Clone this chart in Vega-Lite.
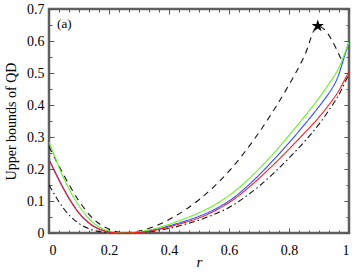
{
  "$schema": "https://vega.github.io/schema/vega-lite/v6.json",
  "width": 300,
  "height": 224,
  "autosize": "none",
  "padding": {"left": 49, "top": 9, "right": 8, "bottom": 39},
  "background": "white",
  "config": {
    "view": {"stroke": "#606060", "strokeWidth": 2.5},
    "axis": {
      "domain": false,
      "grid": false,
      "labelFont": "Liberation Serif",
      "labelFontSize": 14,
      "labelColor": "black",
      "titleFont": "Liberation Serif",
      "titleFontSize": 14,
      "titleFontWeight": "normal",
      "titleColor": "black",
      "tickColor": "#555555",
      "tickWidth": 1
    },
    "axisBottom": {"labelPadding": 10, "labelBaseline": "top"}
  },
  "datasets": {
    "dashed": [
      {"s": "a_dash", "r": 0, "v": 0.27},
      {"s": "a_dash", "r": 0.05, "v": 0.18},
      {"s": "a_dash", "r": 0.1, "v": 0.1},
      {"s": "a_dash", "r": 0.15, "v": 0.042},
      {"s": "a_dash", "r": 0.2, "v": 0.012},
      {"s": "a_dash", "r": 0.25, "v": 0.001},
      {"s": "a_dash", "r": 0.3, "v": 0.006},
      {"s": "a_dash", "r": 0.35, "v": 0.02},
      {"s": "a_dash", "r": 0.4, "v": 0.042},
      {"s": "a_dash", "r": 0.45, "v": 0.07},
      {"s": "a_dash", "r": 0.5, "v": 0.104},
      {"s": "a_dash", "r": 0.55, "v": 0.145},
      {"s": "a_dash", "r": 0.6, "v": 0.193},
      {"s": "a_dash", "r": 0.65, "v": 0.25},
      {"s": "a_dash", "r": 0.7, "v": 0.314},
      {"s": "a_dash", "r": 0.75, "v": 0.385},
      {"s": "a_dash", "r": 0.8, "v": 0.463},
      {"s": "a_dash", "r": 0.85, "v": 0.55},
      {"s": "a_dash", "r": 0.896, "v": 0.647},
      {"s": "a_dash", "r": 0.98, "v": 0.53}
    ],
    "curves": [
      {"s": "b_dashdot", "r": 0, "v": 0.15},
      {"s": "b_dashdot", "r": 0.05, "v": 0.075},
      {"s": "b_dashdot", "r": 0.1, "v": 0.03},
      {"s": "b_dashdot", "r": 0.15, "v": 0.008},
      {"s": "b_dashdot", "r": 0.2, "v": 0.001},
      {"s": "b_dashdot", "r": 0.25, "v": 0},
      {"s": "b_dashdot", "r": 0.3, "v": 0.001},
      {"s": "b_dashdot", "r": 0.35, "v": 0.006},
      {"s": "b_dashdot", "r": 0.4, "v": 0.014},
      {"s": "b_dashdot", "r": 0.45, "v": 0.026},
      {"s": "b_dashdot", "r": 0.5, "v": 0.04},
      {"s": "b_dashdot", "r": 0.55, "v": 0.058},
      {"s": "b_dashdot", "r": 0.6, "v": 0.08},
      {"s": "b_dashdot", "r": 0.65, "v": 0.11},
      {"s": "b_dashdot", "r": 0.7, "v": 0.146},
      {"s": "b_dashdot", "r": 0.75, "v": 0.188},
      {"s": "b_dashdot", "r": 0.8, "v": 0.234},
      {"s": "b_dashdot", "r": 0.85, "v": 0.284},
      {"s": "b_dashdot", "r": 0.9, "v": 0.34},
      {"s": "b_dashdot", "r": 0.95, "v": 0.407},
      {"s": "b_dashdot", "r": 0.975, "v": 0.448},
      {"s": "b_dashdot", "r": 1, "v": 0.497},
      {"s": "c_blue", "r": 0, "v": 0.23},
      {"s": "c_blue", "r": 0.05, "v": 0.137},
      {"s": "c_blue", "r": 0.1, "v": 0.063},
      {"s": "c_blue", "r": 0.15, "v": 0.021},
      {"s": "c_blue", "r": 0.2, "v": 0.004},
      {"s": "c_blue", "r": 0.25, "v": 0},
      {"s": "c_blue", "r": 0.3, "v": 0.003},
      {"s": "c_blue", "r": 0.35, "v": 0.01},
      {"s": "c_blue", "r": 0.4, "v": 0.022},
      {"s": "c_blue", "r": 0.45, "v": 0.036},
      {"s": "c_blue", "r": 0.5, "v": 0.052},
      {"s": "c_blue", "r": 0.55, "v": 0.073},
      {"s": "c_blue", "r": 0.6, "v": 0.1},
      {"s": "c_blue", "r": 0.65, "v": 0.137},
      {"s": "c_blue", "r": 0.7, "v": 0.181},
      {"s": "c_blue", "r": 0.75, "v": 0.23},
      {"s": "c_blue", "r": 0.8, "v": 0.282},
      {"s": "c_blue", "r": 0.85, "v": 0.337},
      {"s": "c_blue", "r": 0.9, "v": 0.395},
      {"s": "c_blue", "r": 0.95, "v": 0.462},
      {"s": "c_blue", "r": 0.975, "v": 0.522},
      {"s": "c_blue", "r": 1, "v": 0.598},
      {"s": "d_green", "r": 0, "v": 0.285},
      {"s": "d_green", "r": 0.05, "v": 0.17},
      {"s": "d_green", "r": 0.1, "v": 0.085},
      {"s": "d_green", "r": 0.15, "v": 0.03},
      {"s": "d_green", "r": 0.2, "v": 0.006},
      {"s": "d_green", "r": 0.25, "v": 0},
      {"s": "d_green", "r": 0.3, "v": 0.004},
      {"s": "d_green", "r": 0.35, "v": 0.013},
      {"s": "d_green", "r": 0.4, "v": 0.027},
      {"s": "d_green", "r": 0.45, "v": 0.044},
      {"s": "d_green", "r": 0.5, "v": 0.063},
      {"s": "d_green", "r": 0.55, "v": 0.087},
      {"s": "d_green", "r": 0.6, "v": 0.117},
      {"s": "d_green", "r": 0.65, "v": 0.155},
      {"s": "d_green", "r": 0.7, "v": 0.2},
      {"s": "d_green", "r": 0.75, "v": 0.25},
      {"s": "d_green", "r": 0.8, "v": 0.305},
      {"s": "d_green", "r": 0.85, "v": 0.362},
      {"s": "d_green", "r": 0.9, "v": 0.422},
      {"s": "d_green", "r": 0.95, "v": 0.49},
      {"s": "d_green", "r": 0.975, "v": 0.535},
      {"s": "d_green", "r": 1, "v": 0.597},
      {"s": "e_red", "r": 0, "v": 0.228},
      {"s": "e_red", "r": 0.05, "v": 0.135},
      {"s": "e_red", "r": 0.1, "v": 0.062},
      {"s": "e_red", "r": 0.15, "v": 0.02},
      {"s": "e_red", "r": 0.2, "v": 0.003},
      {"s": "e_red", "r": 0.25, "v": 0},
      {"s": "e_red", "r": 0.3, "v": 0.002},
      {"s": "e_red", "r": 0.35, "v": 0.008},
      {"s": "e_red", "r": 0.4, "v": 0.019},
      {"s": "e_red", "r": 0.45, "v": 0.032},
      {"s": "e_red", "r": 0.5, "v": 0.047},
      {"s": "e_red", "r": 0.55, "v": 0.068},
      {"s": "e_red", "r": 0.6, "v": 0.095},
      {"s": "e_red", "r": 0.65, "v": 0.13},
      {"s": "e_red", "r": 0.7, "v": 0.171},
      {"s": "e_red", "r": 0.75, "v": 0.215},
      {"s": "e_red", "r": 0.8, "v": 0.262},
      {"s": "e_red", "r": 0.85, "v": 0.311},
      {"s": "e_red", "r": 0.9, "v": 0.362},
      {"s": "e_red", "r": 0.95, "v": 0.422},
      {"s": "e_red", "r": 0.975, "v": 0.46},
      {"s": "e_red", "r": 1, "v": 0.505}
    ],
    "star": [{"r": 0.896, "v": 0.647}],
    "label": [{"r": 0.027, "v": 0.653, "t": "(a)"}]
  },
  "resolve": {"axis": {"x": "independent", "y": "independent"}},
  "layer": [
    {
      "data": {"name": "dashed"},
      "mark": {"type": "line", "strokeWidth": 1.1, "interpolate": "monotone", "color": "#111111", "strokeDash": [6, 5]},
      "encoding": {
        "x": {"field": "r", "type": "quantitative", "scale": {"domain": [0, 1], "nice": false, "zero": false},
          "axis": {"orient": "bottom", "values": [0, 0.2, 0.4, 0.6, 0.8, 1], "ticks": false, "labelPadding": 10, "labelExpr": "datum.value == 0 || datum.value == 1 ? format(datum.value, 'd') : format(datum.value, '.1f')", "title": "r", "titleFontStyle": "italic", "titleFontSize": 15, "titlePadding": -3}},
        "y": {"field": "v", "type": "quantitative", "scale": {"domain": [0, 0.7], "nice": false},
          "axis": {"orient": "left", "values": [0, 0.1, 0.2, 0.3, 0.4, 0.5, 0.6, 0.7], "ticks": false, "labelPadding": 5, "labelExpr": "datum.value == 0 ? '0' : format(datum.value, '.1f')", "title": "Upper bounds of QD", "titlePadding": 8}}
      }
    },
    {
      "data": {"name": "curves"},
      "mark": {"type": "line", "strokeWidth": 1.1, "interpolate": "natural", "clip": true},
      "encoding": {
        "x": {"field": "r", "type": "quantitative", "axis": null},
        "y": {"field": "v", "type": "quantitative", "axis": null},
        "color": {"field": "s", "type": "nominal", "legend": null,
          "scale": {"domain": ["b_dashdot", "c_blue", "d_green", "e_red"], "range": ["#111111", "#2a4dff", "#66f01e", "#ff1a1a"]}},
        "strokeDash": {"field": "s", "type": "nominal", "legend": null,
          "scale": {"domain": ["b_dashdot", "c_blue", "d_green", "e_red"], "range": [[6, 3, 1.5, 3], [1, 0], [1, 0], [1, 0]]}}
      }
    },
    {
      "data": {"name": "star"},
      "mark": {"type": "point", "shape": "M0,-1L0.224,-0.309L0.951,-0.309L0.363,0.118L0.588,0.809L0,0.382L-0.588,0.809L-0.363,0.118L-0.951,-0.309L-0.224,-0.309Z", "filled": true, "color": "black", "size": 170, "opacity": 1},
      "encoding": {
        "x": {"field": "r", "type": "quantitative", "axis": {"orient": "top", "values": [0, 0.2, 0.4, 0.6, 0.8, 1], "tickSize": -5, "labels": false, "title": null}},
        "y": {"field": "v", "type": "quantitative", "axis": {"orient": "right", "values": [0, 0.1, 0.2, 0.3, 0.4, 0.5, 0.6, 0.7], "tickSize": -5, "labels": false, "title": null}}
      }
    },
    {
      "data": {"name": "star"},
      "mark": {"type": "point", "opacity": 0},
      "encoding": {
        "x": {"field": "r", "type": "quantitative", "axis": {"orient": "bottom", "values": [0, 0.2, 0.4, 0.6, 0.8, 1], "tickSize": -5, "labels": false, "title": null}},
        "y": {"field": "v", "type": "quantitative", "axis": {"orient": "left", "values": [0, 0.1, 0.2, 0.3, 0.4, 0.5, 0.6, 0.7], "tickSize": -5, "labels": false, "title": null}}
      }
    },
    {
      "data": {"name": "star"},
      "mark": {"type": "point", "opacity": 0},
      "encoding": {
        "x": {"field": "r", "type": "quantitative", "axis": {"orient": "bottom", "values": [0.0333, 0.0667, 0.1, 0.1333, 0.1667, 0.2333, 0.2667, 0.3, 0.3333, 0.3667, 0.4333, 0.4667, 0.5, 0.5333, 0.5667, 0.6333, 0.6667, 0.7, 0.7333, 0.7667, 0.8333, 0.8667, 0.9, 0.9333, 0.9667], "tickSize": -3, "labels": false, "title": null}},
        "y": {"field": "v", "type": "quantitative", "axis": {"orient": "left", "values": [0.05, 0.15, 0.25, 0.35, 0.45, 0.55, 0.65], "tickSize": -3, "labels": false, "title": null}}
      }
    },
    {
      "data": {"name": "star"},
      "mark": {"type": "point", "opacity": 0},
      "encoding": {
        "x": {"field": "r", "type": "quantitative", "axis": {"orient": "top", "values": [0.0333, 0.0667, 0.1, 0.1333, 0.1667, 0.2333, 0.2667, 0.3, 0.3333, 0.3667, 0.4333, 0.4667, 0.5, 0.5333, 0.5667, 0.6333, 0.6667, 0.7, 0.7333, 0.7667, 0.8333, 0.8667, 0.9, 0.9333, 0.9667], "tickSize": -3, "labels": false, "title": null}},
        "y": {"field": "v", "type": "quantitative", "axis": {"orient": "right", "values": [0.05, 0.15, 0.25, 0.35, 0.45, 0.55, 0.65], "tickSize": -3, "labels": false, "title": null}}
      }
    },
    {
      "data": {"name": "label"},
      "mark": {"type": "text", "align": "left", "baseline": "middle", "font": "Liberation Serif", "fontSize": 13, "color": "black"},
      "encoding": {
        "x": {"field": "r", "type": "quantitative", "axis": null},
        "y": {"field": "v", "type": "quantitative", "axis": null},
        "text": {"field": "t"}
      }
    }
  ]
}
